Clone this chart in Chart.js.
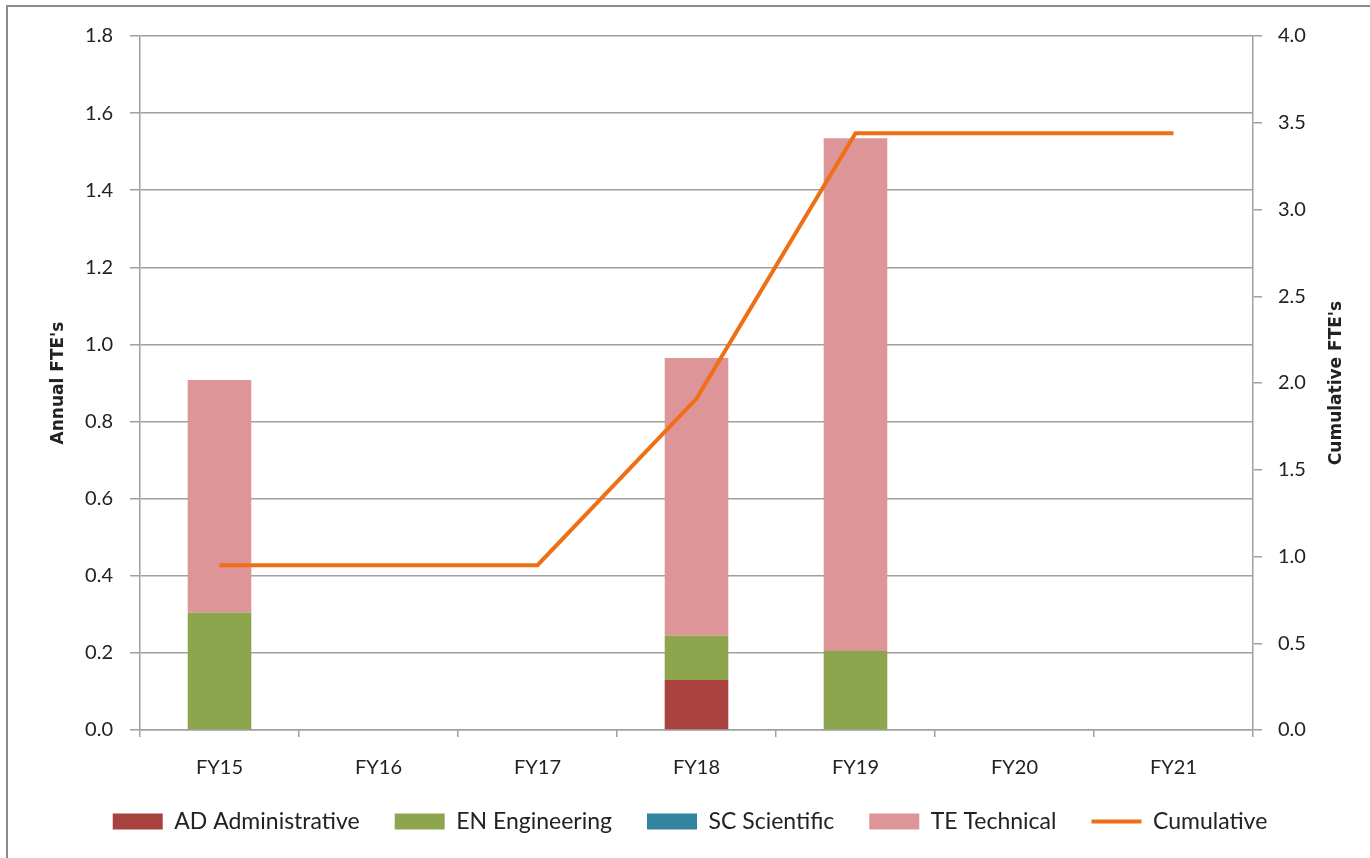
<!DOCTYPE html>
<html>
<head>
<meta charset="utf-8">
<title>Annual and Cumulative FTE's</title>
<script src="https://cdn.jsdelivr.net/npm/chart.js@4.4.0/dist/chart.umd.min.js"></script>
<style>
  html, body { margin: 0; padding: 0; background: #fff; overflow: hidden; }
  #wrap { position: absolute; left: 0; top: 0; width: 1370px; height: 858px; }
  #frame { position: absolute; left: 6px; top: 5px; width: 1420px; height: 920px;
           border: 2px solid #8c8c8c; pointer-events: none; }
</style>
</head>
<body>
<div id="wrap">
  <canvas id="chart" width="1370" height="858"></canvas>
  <div id="frame"></div>
</div>
<script>
// chart data
const years = ['FY15', 'FY16', 'FY17', 'FY18', 'FY19', 'FY20', 'FY21'];
const adminFTE = [0, 0, 0, 0.13, 0, 0, 0];
const engFTE = [0.305, 0, 0, 0.115, 0.205, 0, 0];
const sciFTE = [0, 0, 0, 0, 0, 0, 0];
const techFTE = [0.603, 0, 0, 0.72, 1.33, 0, 0];
const cumulativeFTE = [0.95, 0.95, 0.95, 1.91, 3.44, 3.44, 3.44];

const FONT = 'Lato, "Liberation Sans", sans-serif';
const TITLE_FONT = '"DejaVu Sans", sans-serif';
const TEXT = '#222';
const GRID = '#a0a0a0';

// right axis title reads bottom-to-top like the left one
const rightTitle = {
    id: 'rightTitle',
    afterDraw(chart) {
        const ctx = chart.ctx;
        const area = chart.chartArea;
        ctx.save();
        ctx.translate(1337, (area.top + area.bottom) / 2);
        ctx.rotate(-Math.PI / 2);
        ctx.font = 'bold 17px ' + TITLE_FONT;
        ctx.fillStyle = TEXT;
        ctx.textAlign = 'center';
        ctx.textBaseline = 'middle';
        ctx.fillText("Cumulative FTE's", 0, 0);
        ctx.restore();
    }
};

function barSet(label, data, color) {
    return {
        type: 'bar',
        label: label,
        data: data,
        backgroundColor: color,
        borderWidth: 0,
        yAxisID: 'y',
        order: 1,
        pointStyle: 'rect',
        barPercentage: 0.4,
        categoryPercentage: 1
    };
}

const ctx = document.getElementById('chart').getContext('2d');
new Chart(ctx, {
    data: {
        labels: years,
        datasets: [
            barSet('AD Administrative', adminFTE, '#A9423F'),
            barSet('EN Engineering', engFTE, '#8DA64E'),
            barSet('SC Scientific', sciFTE, '#31849B'),
            barSet('TE Technical', techFTE, '#DE9598'),
            {
                type: 'line',
                label: 'Cumulative',
                data: cumulativeFTE,
                borderColor: '#EF6F14',
                backgroundColor: '#EF6F14',
                borderWidth: 4,
                pointRadius: 0,
                tension: 0,
                yAxisID: 'y2',
                order: 0,
                pointStyle: 'line'
            }
        ]
    },
    options: {
        responsive: false,
        animation: false,
        layout: { padding: { top: 36, left: 10, right: 0, bottom: 15 } },
        plugins: {
            tooltip: { enabled: false },
            legend: {
                position: 'bottom',
                labels: {
                    font: { family: FONT, size: 23 },
                    color: TEXT,
                    usePointStyle: true,
                    pointStyleWidth: 50,
                    boxWidth: 50,
                    boxHeight: 16,
                    padding: 35,
                    sort: (a, b) => a.datasetIndex - b.datasetIndex
                }
            }
        },
        scales: {
            x: {
                stacked: true,
                grid: { offset: true, drawOnChartArea: false, drawTicks: true, tickLength: 7, color: GRID, lineWidth: 1.5 },
                border: { color: GRID, width: 1.5 },
                ticks: { font: { family: FONT, size: 20 }, color: TEXT, padding: 19 },
                afterFit: s => { s.height = 45; }
            },
            y: {
                position: 'left',
                stacked: true,
                min: 0,
                max: 1.8,
                ticks: { stepSize: 0.2, callback: v => v.toFixed(1), font: { family: FONT, size: 20 }, color: TEXT, padding: 17 },
                grid: { color: GRID, lineWidth: 1.5, tickLength: 10 },
                border: { color: GRID, width: 1.5 },
                title: { display: true, text: "Annual FTE's", font: { family: TITLE_FONT, size: 17, weight: 'bold' }, color: TEXT, padding: { top: 38, bottom: 0 } },
                afterFit: s => { s.width = 130; }
            },
            y2: {
                position: 'right',
                stacked: false,
                min: 0,
                max: 4,
                ticks: { stepSize: 0.5, callback: v => v.toFixed(1), font: { family: FONT, size: 20 }, color: TEXT, padding: 16 },
                grid: { drawOnChartArea: false, color: GRID, lineWidth: 1.5, tickLength: 9 },
                border: { color: GRID, width: 1.5 },
                afterFit: s => { s.width = 117; }
            }
        }
    },
    plugins: [rightTitle]
});
</script>
</body>
</html>
